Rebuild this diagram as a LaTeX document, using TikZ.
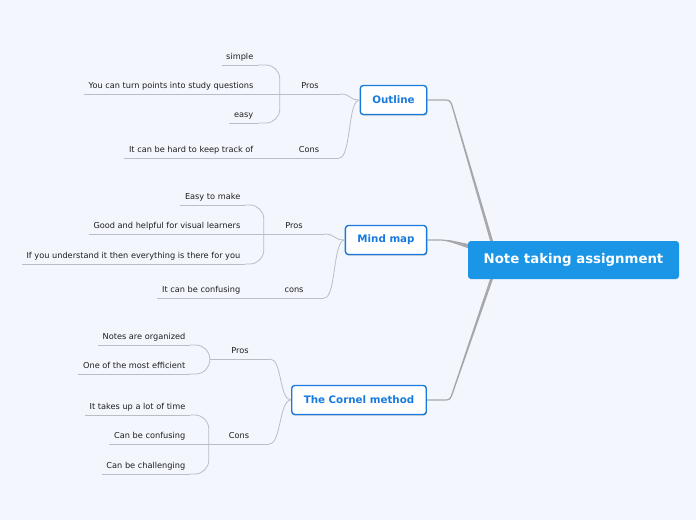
\documentclass[tikz,border=0pt]{standalone}
\usepackage{fontspec}
\setmainfont{DejaVu Sans}
\usetikzlibrary{shadows,calc}
\definecolor{bg}{RGB}{243,246,253}
\definecolor{rootblue}{RGB}{27,149,230}
\definecolor{topicblue}{RGB}{24,122,222}
\definecolor{lineg}{RGB}{188,188,196}
\definecolor{rootline}{RGB}{168,168,172}
\definecolor{txt}{RGB}{30,30,30}
\pgfdeclarelayer{back}
\pgfsetlayers{back,main}
\begin{document}
\begin{tikzpicture}[x=1pt,y=-1pt,
 rootbox/.style={fill=rootblue, rounded corners=3pt, text=white, font=\fontsize{13.3}{15}\selectfont\bfseries, minimum width=211pt, minimum height=38pt, inner sep=0pt},
 topic/.style={draw=topicblue, line width=1.4pt, fill=white, rounded corners=3pt, text=topicblue, font=\fontsize{10.3}{12}\selectfont\bfseries, minimum height=29pt, inner xsep=12pt, drop shadow={shadow xshift=0.6pt, shadow yshift=-1.2pt, opacity=0.35, fill=black!60}},
 sub/.style={anchor=south, minimum width=60pt, inner xsep=0pt, inner ysep=3.3pt, text height=6.2pt, text depth=1.8pt, font=\fontsize{8.2}{9}\selectfont, text=txt},
 leaf/.style={anchor=south east, inner xsep=4.5pt, inner ysep=3.3pt, text height=6.2pt, text depth=1.8pt, font=\fontsize{8.2}{9}\selectfont, text=txt},
 uline/.style={draw=lineg, line width=0.8pt},
 conn/.style={draw=lineg, line width=0.8pt},
 brace/.style={conn, rounded corners=14pt},
 mainconn/.style={fill=rootline}
]
\useasboundingbox (0,0) rectangle (696,520);

% root and topics
\node[rootbox] (root) at (573.5,260) {Note taking assignment};
\node[topic] (outline) at (393.5,100) {Outline};
\node[topic] (mind) at (386,240) {Mind map};
\node[topic] (cornel) at (359,400) {The Cornel method};

\begin{pgfonlayer}{back}
\fill[bg] (0,0) rectangle (696,520);
% main connectors (tapered, thicker at the root)
\fill[mainconn] ($(outline.east)+(0,-0.6)$) -- (446,99.4) .. controls (450.5,99.4) and (451.5,102) .. (453,106.5)
  -- ($(root.north west)+(25.5,1)$) -- ($(root.north west)+(22.5,1)$)
  -- (451.9,107.3) .. controls (450.5,103) and (449.5,100.6) .. (446,100.6) -- ($(outline.east)+(0,0.6)$) -- cycle;
\fill[mainconn] ($(cornel.east)+(0,0.6)$) -- (446,400.6) .. controls (450.5,400.6) and (451.5,398) .. (453,393.5)
  -- ($(root.south west)+(25.5,-1)$) -- ($(root.south west)+(22.5,-1)$)
  -- (451.9,392.7) .. controls (450.5,397) and (449.5,399.4) .. (446,399.4) -- ($(cornel.east)+(0,-0.6)$) -- cycle;
\fill[mainconn] ($(mind.east)+(0,-0.6)$) -- (441,239.4) .. controls (448,239.6) .. ($(root.north west)+(2,3.5)$)
  -- ($(root.north west)+(2,8)$) .. controls (448,241.2) .. (441,240.6) -- ($(mind.east)+(0,0.6)$) -- cycle;
\end{pgfonlayer}

% Outline group
\node[sub] (op) at (310,94) {Pros};
\node[sub] (oc) at (309,158) {Cons};
\node[leaf] (o1) at (258,65) {simple};
\node[leaf] (o2) at (258,94) {You can turn points into study questions};
\node[leaf] (o3) at (258,123) {easy};
\node[leaf] (o4) at (258,158) {It can be hard to keep track of};

% Mind map group
\node[sub] (mp) at (294,234) {Pros};
\node[sub] (mc) at (294,298) {cons};
\node[leaf] (m1) at (245,205) {Easy to make};
\node[leaf] (m2) at (245,234) {Good and helpful for visual learners};
\node[leaf] (m3) at (245,264) {If you understand it then everything is there for you};
\node[leaf] (m4) at (245,298) {It can be confusing};

% Cornel group
\node[sub] (cp) at (240,359) {Pros};
\node[sub] (cc) at (239,444) {Cons};
\node[leaf] (c1) at (190,345) {Notes are organized};
\node[leaf] (c2) at (190,374) {One of the most efficient};
\node[leaf] (c3) at (190,415) {It takes up a lot of time};
\node[leaf] (c4) at (190,444) {Can be confusing};
\node[leaf] (c5) at (190,474) {Can be challenging};

% underlines
\foreach \n in {op,oc,o1,o2,o3,o4,mp,mc,m1,m2,m3,m4,cp,cc,c1,c2,c3,c4,c5}
  \draw[uline] (\n.south west) -- (\n.south east);

% topic to subtopic connectors
\foreach \s/\t in {op/outline,oc/outline,mp/mind,mc/mind,cp/cornel,cc/cornel}
  \draw[conn] (\s.south east) .. controls ($(\s.south east)+(12,0)$) and ($(\t.west)+(-12,0)$) .. (\t.west);

% subtopic to leaf connectors (brace shape)
\foreach \l/\s in {o1/op,o3/op,m1/mp,m3/mp,c1/cp,c2/cp,c3/cc,c5/cc}
  \draw[brace] (\l.south east) -| (\s.south west);
% leaves level with their subtopic
\foreach \l/\s in {o2/op,o4/oc,m2/mp,m4/mc,c4/cc}
  \draw[conn] (\l.south east) -- (\s.south west);
\end{tikzpicture}
\end{document}
